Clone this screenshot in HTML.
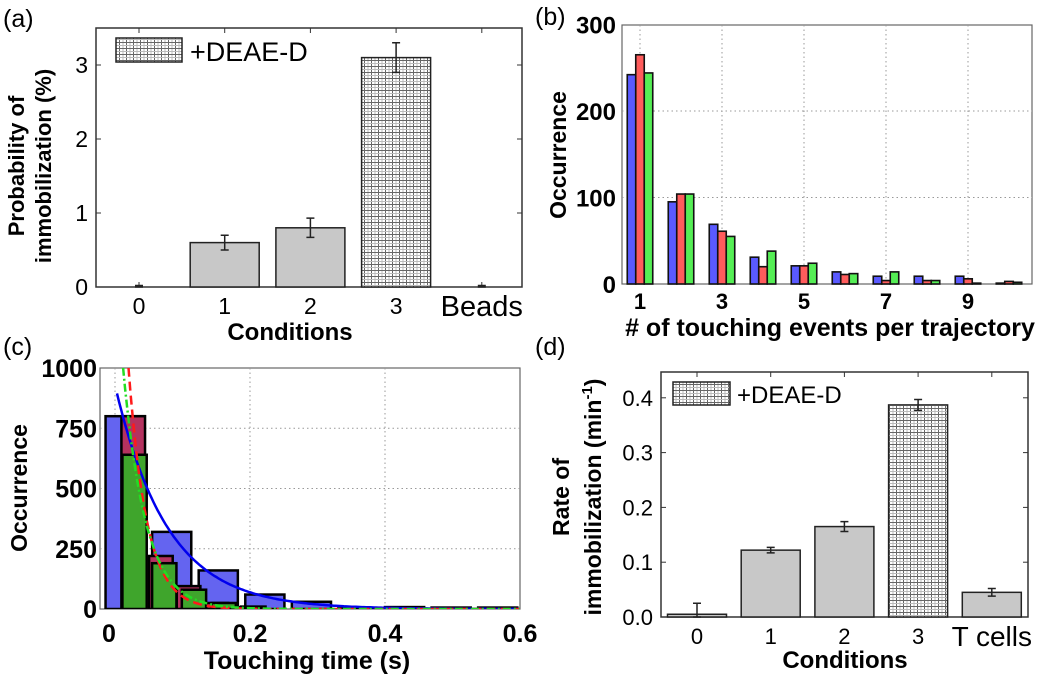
<!DOCTYPE html>
<html><head><meta charset="utf-8"><style>
html,body{margin:0;padding:0;background:#fff;}
svg{display:block;font-family:"Liberation Sans",Arial,sans-serif;}
.b{font-weight:bold;}
</style></head><body>
<svg id="fig" width="1050" height="681" viewBox="0 0 1050 681" xmlns="http://www.w3.org/2000/svg">
<defs>
<pattern id="hatch" width="7" height="6" patternUnits="userSpaceOnUse">
<rect width="7" height="6" fill="#fff"/>
<line x1="0.5" y1="0" x2="0.5" y2="6" stroke="#666" stroke-width="1"/>
<line x1="4" y1="0" x2="4" y2="6" stroke="#bbb" stroke-width="1"/>
<line x1="0" y1="0.5" x2="7" y2="0.5" stroke="#666" stroke-width="1"/>
<line x1="0" y1="3.5" x2="7" y2="3.5" stroke="#bbb" stroke-width="1"/>
</pattern>
</defs>
<g id="pa"></g>
<g id="pb"></g>
<g id="pc"></g>
<g id="pd"></g>
</svg>
<script>
// ---- Panel (a) data ----
const aCats = ["0","1","2","3","Beads"];
const aVals = [0, 0.6, 0.8, 3.1, 0];
const aErrs = [0.02, 0.1, 0.13, 0.2, 0.02];
const aHatched = [false,false,false,true,false];
const aYTicks = [0,1,2,3];
// ---- Panel (b) data ----
const bCats = [1,2,3,4,5,6,7,8,9,10];
const bBlue = [242,95,69,31,21,14,9,9,9,1];
const bRed = [265,104,61,20,21,11,4,4,6,3];
const bGreen = [244,104,55,38,24,12,14,4,1,2];
const bYTicks = [0,100,200,300];
const bXTicks = [1,3,5,7,9];
// ---- Panel (c) data ----
const cBlueCenters = [0.015,0.084,0.153,0.222,0.291,0.360,0.429,0.498,0.567];
const cBlueVals = [800,320,160,60,30,4,8,6,6];
const cRedCenters = [0.027,0.068,0.109,0.150,0.191];
const cRedVals = [800,220,95,25,8];
const cGreenCenters = [0.029,0.073,0.117,0.161,0.205];
const cGreenVals = [640,190,80,25,10];
const cFitAmp = [930,2100,1440];
const cFitTau = [0.077,0.027,0.033];
const cFitStart = [0.003,0.02,0.012];
const cYTicks = [0,250,500,750,1000];
const cXTicks = [0,0.2,0.4,0.6];
// ---- Panel (d) data ----
const dCats = ["0","1","2","3","T cells"];
const dVals = [0.005,0.122,0.165,0.387,0.045];
const dErrs = [0.02,0.005,0.009,0.01,0.007];
const dHatched = [false,false,false,true,false];
const dYTicks = [0.0,0.1,0.2,0.3,0.4];

const NS="http://www.w3.org/2000/svg";
function mk(parent,tag,attrs,text){const e=document.createElementNS(NS,tag);for(const k in attrs)e.setAttribute(k,attrs[k]);if(text!==undefined)e.textContent=text;parent.appendChild(e);return e;}

function conditionPanel(g,o){
  const x=i=>o.x0+o.step*i, y=v=>o.bottom-(v-0)*o.pxPer;
  mk(g,'rect',{x:o.L,y:o.T,width:o.R-o.L,height:o.bottom-o.T,fill:'none',stroke:'#333','stroke-width':1.5});
  o.yTicks.forEach(v=>{
    const t=mk(g,'text',{x:o.L-8,y:y(v)+8,'text-anchor':'end','font-size':o.fs},o.fmt(v));
    
    
    mk(g,'line',{x1:o.L,x2:o.L+5,y1:y(v),y2:y(v),stroke:'#333'});
    mk(g,'line',{x1:o.R,x2:o.R-5,y1:y(v),y2:y(v),stroke:'#333'});
  });
  o.cats.forEach((c,i)=>{
    mk(g,'line',{x1:x(i),x2:x(i),y1:o.T,y2:o.T+5,stroke:'#333'});
    mk(g,'line',{x1:x(i),x2:x(i),y1:o.bottom,y2:o.bottom-5,stroke:'#333'});
    const big=i===o.cats.length-1;
    const t=mk(g,'text',{x:x(i),y:o.bottom+(big?29:27),'text-anchor':'middle','font-size':big?o.fs+6:o.fs},c);
    
    
    const v=o.vals[i];
    if(v>0.001){
      const r=mk(g,'rect',{x:x(i)-o.bw/2,y:y(v),width:o.bw,height:o.bottom-y(v),fill:o.hatch[i]?'url(#hatch)':'#c8c8c8',stroke:'#222','stroke-width':1.5});
      
      
    }
    const e=o.errs[i], top=y(v+e), bot=y(Math.max(0,v-e));
    const eb=mk(g,'path',{d:`M${x(i)} ${top}V${bot}M${x(i)-4} ${top}h8M${x(i)-4} ${bot}h8`,stroke:'#222','stroke-width':1.5,fill:'none'});
    
    
  });
}

// Panel a
(function(){
  const g=document.getElementById('pa');
  mk(g,'text',{x:3,y:27,'font-size':25},'(a)');
  conditionPanel(g,{L:96,R:522,T:28,bottom:287,x0:139,step:85.7,pxPer:74,bw:69,cats:aCats,vals:aVals,errs:aErrs,hatch:aHatched,yTicks:aYTicks,fs:23,fmt:v=>String(v)});
  const lg=mk(g,'rect',{x:116,y:38,width:66,height:24,fill:'url(#hatch)',stroke:'#222','stroke-width':1.5});
  
  mk(g,'text',{x:190,y:61,'font-size':27},'+DEAE-D');
  mk(g,'text',{class:'b','font-size':22,'text-anchor':'middle',transform:'translate(24,166) rotate(-90)'},'Probability of');
  mk(g,'text',{class:'b','font-size':22,'text-anchor':'middle',x:0,y:0,transform:'translate(51,166) rotate(-90)'},'immobilization (%)');
  mk(g,'text',{class:'b','font-size':24,'text-anchor':'middle',x:290,y:340},'Conditions');
})();

// Panel b
(function(){
  const g=document.getElementById('pb');
  const L=622,R=1032,T=25,B=284;
  const x=v=>640+(v-1)*41, y=v=>B-v*0.865;
  mk(g,'text',{x:535,y:25,'font-size':25},'(b)');
  mk(g,'rect',{x:L,y:T,width:R-L,height:B-T,fill:'none',stroke:'#666','stroke-width':1.2});
  bXTicks.forEach(v=>{mk(g,'line',{x1:x(v),x2:x(v),y1:T,y2:B,stroke:'#999','stroke-dasharray':'1.5 3'});
    const t=mk(g,'text',{x:x(v),y:B+25,'text-anchor':'middle','font-size':22,class:'b'},v);
    });
  bYTicks.forEach(v=>{if(v>0&&v<300)mk(g,'line',{x1:L,x2:R,y1:y(v),y2:y(v),stroke:'#999','stroke-dasharray':'1.5 3'});
    const t=mk(g,'text',{x:L-6,y:y(v)+9,'text-anchor':'end','font-size':24,class:'b'},v);
    });
  const series=[[bBlue,'#5a5aff',-1],[bRed,'#ff5c5c',0],[bGreen,'#55ee55',1]];
  const bw=8.5;
  bCats.forEach((c,i)=>{series.forEach(([arr,col,off])=>{
    const r=mk(g,'rect',{x:x(c)+off*bw-bw/2,y:y(arr[i]),width:bw,height:B-y(arr[i]),fill:col,stroke:'#111','stroke-width':1.6});
    });});
  mk(g,'text',{class:'b','font-size':23,'text-anchor':'middle',transform:'translate(566,155) rotate(-90)'},'Occurrence');
  mk(g,'text',{class:'b','font-size':25,'text-anchor':'middle',x:830,y:336},'# of touching events per trajectory');
})();

// Panel c
(function(){
  const g=document.getElementById('pc');
  const L=100,R=520,T=368,B=609;
  const x=v=>115+v*675, y=v=>B-v*0.241;
  mk(g,'text',{x:3,y:355,'font-size':25},'(c)');
  const clip=mk(g,'clipPath',{id:'cclip'});mk(clip,'rect',{x:L,y:T,width:R-L,height:B-T});
  mk(g,'rect',{x:L,y:T,width:R-L,height:B-T,fill:'none',stroke:'#666','stroke-width':1.2});
  cXTicks.forEach(v=>{if(v<0.6)mk(g,'line',{x1:x(v),x2:x(v),y1:T,y2:B,stroke:'#999','stroke-dasharray':'1.5 3'});
    const t=mk(g,'text',{x:x(v)-(v===0?6:0),y:B+33,'text-anchor':'middle','font-size':25,class:'b'},String(v));
    });
  cYTicks.forEach(v=>{if(v>0&&v<1000)mk(g,'line',{x1:L,x2:R,y1:y(v),y2:y(v),stroke:'#999','stroke-dasharray':'1.5 3'});
    const t=mk(g,'text',{x:L-3,y:y(v)+9,'text-anchor':'end','font-size':25,class:'b'},v);
    });
  const gc=mk(g,'g',{'clip-path':'url(#cclip)'});
  const hist=(cs,vs,w,col,name)=>cs.forEach((c,i)=>{const r=mk(gc,'rect',{x:x(c-w/2),y:y(vs[i]),width:w*675,height:B-y(vs[i]),fill:col,stroke:'#000','stroke-width':2.5});
    });
  hist(cBlueCenters,cBlueVals,0.058,'#6464f0','blue-hist-bar');
  hist(cRedCenters,cRedVals,0.035,'#b4325f','red-hist-bar');
  hist(cGreenCenters,cGreenVals,0.036,'#3fa52c','green-hist-bar');
  const cols=['#0000ee','#ff1a1a','#22dd22'], dash=['none','9 5','8 3 2 3'];
  cFitAmp.forEach((A,k)=>{let d='';for(let t=cFitStart[k];t<=0.62;t+=0.003){d+=(d?'L':'M')+x(t).toFixed(1)+' '+y(A*Math.exp(-t/cFitTau[k])).toFixed(1);}
    const p=mk(gc,'path',{d:d,fill:'none',stroke:cols[k],'stroke-width':2.5,'stroke-dasharray':dash[k]});
    });
  mk(g,'text',{class:'b','font-size':23,'text-anchor':'middle',transform:'translate(27,488) rotate(-90)'},'Occurrence');
  mk(g,'text',{class:'b','font-size':25,'text-anchor':'middle',x:307,y:669},'Touching time (s)');
})();

// Panel d
(function(){
  const g=document.getElementById('pd');
  mk(g,'text',{x:535,y:355,'font-size':25},'(d)');
  conditionPanel(g,{L:661,R:1028,T:372,bottom:617,x0:697,step:73.7,pxPer:548,bw:59,cats:dCats,vals:dVals,errs:dErrs,hatch:dHatched,yTicks:dYTicks,fs:22,fmt:v=>v.toFixed(1)});
  const lg=mk(g,'rect',{x:673,y:382,width:57,height:23,fill:'url(#hatch)',stroke:'#222','stroke-width':1.5});
  
  mk(g,'text',{x:737,y:403,'font-size':24},'+DEAE-D');
  mk(g,'text',{class:'b','font-size':23,'text-anchor':'middle',transform:'translate(569,497) rotate(-90)'},'Rate of');
  const t=mk(g,'text',{class:'b','font-size':23,'text-anchor':'middle',transform:'translate(601,497) rotate(-90)'});
  mk(t,'tspan',{},'immobilization (min');mk(t,'tspan',{dy:-9,'font-size':15},'-1');mk(t,'tspan',{dy:9},')');
  mk(g,'text',{class:'b','font-size':24,'text-anchor':'middle',x:845,y:668},'Conditions');
})();
</script>
</body></html>
